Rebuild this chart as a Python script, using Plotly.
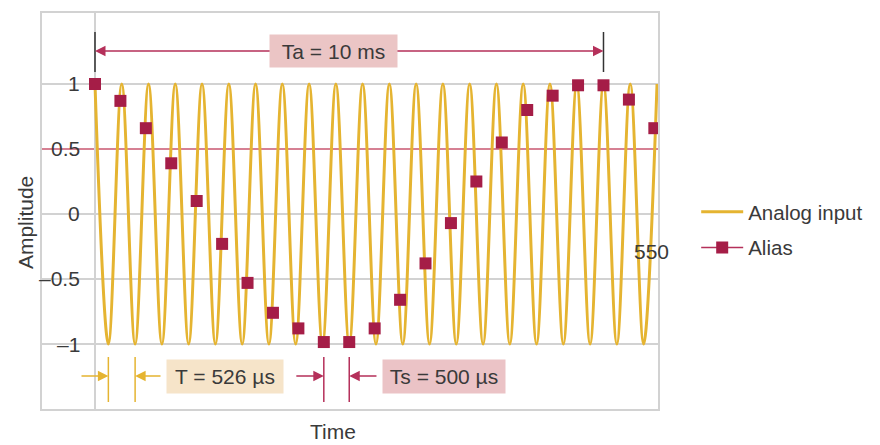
import plotly.graph_objects as go

# ---------------- data ----------------
# Analog input: times (ms) of its crests and troughs and their amplitudes
analog_t = [0.000, 0.263, 0.526, 0.789, 1.053, 1.316, 1.579, 1.842, 2.105, 2.368,
            2.632, 2.895, 3.158, 3.421, 3.684, 3.947, 4.211, 4.474, 4.737, 5.000,
            5.263, 5.526, 5.789, 6.053, 6.316, 6.579, 6.842, 7.105, 7.368, 7.632,
            7.895, 8.158, 8.421, 8.684, 8.947, 9.211, 9.474, 9.737, 10.000, 10.263,
            10.526, 10.789, 11.053]
analog_v = [1, -1, 1, -1, 1, -1, 1, -1, 1, -1,
            1, -1, 1, -1, 1, -1, 1, -1, 1, -1,
            1, -1, 1, -1, 1, -1, 1, -1, 1, -1,
            1, -1, 1, -1, 1, -1, 1, -1, 1, -1,
            1, -1, 1]

# Alias: sample times (ms) and sampled values
alias_t = [0.0, 0.5, 1.0, 1.5, 2.0, 2.5, 3.0, 3.5, 4.0, 4.5, 5.0, 5.5,
           6.0, 6.5, 7.0, 7.5, 8.0, 8.5, 9.0, 9.5, 10.0, 10.5, 11.0]
alias_v = [1.0, 0.87, 0.66, 0.39, 0.10, -0.23, -0.53, -0.76, -0.88, -0.985, -0.985, -0.88,
           -0.66, -0.38, -0.07, 0.25, 0.55, 0.80, 0.91, 0.99, 0.99, 0.88, 0.66]

ytick_vals = [1, 0.5, 0, -0.5, -1]
ytick_text = ["1", "0.5", "0", "\u20130.5", "\u20131"]

ta_marks = [0.0, 10.0]        # Ta = 10 ms
t_marks = [0.263, 0.789]      # T = 526 us
ts_marks = [4.5, 5.0]         # Ts = 500 us
ta_label = "Ta = 10 ms"
t_label = "T = 526 \u00b5s"
ts_label = "Ts = 500 \u00b5s"
stray_label = "550"

# ---------------- style ----------------
GOLD = "#E5B431"
CRIMSON = "#A51D47"
ARROW_RED = "#B5305A"
GRID = "#D2D2D2"
TXT = "#3A3A3A"
FONT = "Liberation Sans, Arial, sans-serif"
FS = 21

XR = [-1.042, 11.072]
YR = [-1.5, 1.546]

fig = go.Figure()

fig.add_trace(go.Scatter(
    x=analog_t, y=analog_v, mode="lines", name="Analog input",
    line=dict(color=GOLD, width=3, shape="spline", smoothing=1),
    legendgroup="a", hoverinfo="skip"))

fig.add_trace(go.Scatter(
    x=alias_t, y=alias_v, mode="markers", name="Alias", showlegend=False,
    marker=dict(symbol="square", size=12, color=CRIMSON),
    legendgroup="b"))

# legend entry for Alias (line + marker)
fig.add_trace(go.Scatter(
    x=[None], y=[None], mode="lines+markers", name="Alias",
    line=dict(color=ARROW_RED, width=1.5),
    marker=dict(symbol="square", size=12, color=CRIMSON),
    legendgroup="b"))

shapes = []
# 0.5 reference line
shapes.append(dict(type="line", xref="paper", x0=0, x1=1, yref="y", y0=0.5, y1=0.5,
                   line=dict(color="#C8566F", width=1.5), layer="below"))
# Ta end marks
for xm in ta_marks:
    shapes.append(dict(type="line", xref="x", yref="y", x0=xm, x1=xm, y0=1.092, y1=1.40,
                       line=dict(color="#333333", width=1.5)))
# T marks
for xm in t_marks:
    shapes.append(dict(type="line", xref="x", yref="y", x0=xm, x1=xm, y0=-1.10, y1=-1.446,
                       line=dict(color=GOLD, width=1.5)))
# Ts marks
for xm in ts_marks:
    shapes.append(dict(type="line", xref="x", yref="y", x0=xm, x1=xm, y0=-1.10, y1=-1.446,
                       line=dict(color=ARROW_RED, width=1.5)))

ann = []

def arrow(head_x, tail_x, y, color):
    ann.append(dict(x=head_x, y=y, ax=tail_x, ay=y, xref="x", yref="y", axref="x", ayref="y",
                    text="", showarrow=True, arrowhead=2, arrowsize=1.4, arrowwidth=1.5,
                    arrowcolor=color, standoff=0, startstandoff=0))

# Ta arrows
arrow(ta_marks[0], 4.69, 1.254, ARROW_RED)
arrow(ta_marks[1], 4.69, 1.254, ARROW_RED)
# T arrows
arrow(t_marks[0], -0.295, -1.246, GOLD)
arrow(t_marks[1], 1.318, -1.246, GOLD)
# Ts arrows
arrow(ts_marks[0], 3.93, -1.246, ARROW_RED)
arrow(ts_marks[1], 5.565, -1.246, ARROW_RED)

# labels in boxes
ann.append(dict(x=4.69, y=1.254, xref="x", yref="y", text=ta_label, showarrow=False,
                bgcolor="#EBC5C5", width=123, height=28, borderpad=2,
                font=dict(family=FONT, size=FS, color=TXT)))
ann.append(dict(x=2.557, y=-1.25, xref="x", yref="y", text=t_label, showarrow=False,
                bgcolor="#F6E4C9", width=112, height=29, borderpad=2,
                font=dict(family=FONT, size=FS, color=TXT)))
ann.append(dict(x=6.863, y=-1.25, xref="x", yref="y", text=ts_label, showarrow=False,
                bgcolor="#EBC3C6", width=118, height=29, borderpad=2,
                font=dict(family=FONT, size=FS, color=TXT)))

# y tick labels
for v, t in zip(ytick_vals, ytick_text):
    ann.append(dict(x=-0.26, y=v, xref="x", yref="y", text=t, showarrow=False,
                    xanchor="right", yanchor="middle",
                    font=dict(family=FONT, size=FS, color=TXT)))

# stray label
ann.append(dict(x=10.95, y=-0.285, xref="x", yref="y", text=stray_label, showarrow=False,
                font=dict(family=FONT, size=FS, color=TXT)))

# axis titles
ann.append(dict(x=-0.0276, y=0.472, xref="paper", yref="paper", text="Amplitude",
                textangle=-90, showarrow=False, xanchor="center", yanchor="middle",
                font=dict(family=FONT, size=FS, color=TXT)))
ann.append(dict(x=0.4724, y=-0.058, xref="paper", yref="paper", text="Time",
                showarrow=False, xanchor="center", yanchor="middle",
                font=dict(family=FONT, size=FS, color=TXT)))

fig.update_layout(
    width=880, height=445,
    margin=dict(l=42, r=222, t=13, b=36),
    paper_bgcolor="white", plot_bgcolor="white",
    font=dict(family=FONT, size=FS, color=TXT),
    showlegend=True,
    legend=dict(x=1.062, y=0.548, xanchor="left", yanchor="top",
                traceorder="grouped", tracegroupgap=6, itemwidth=42,
                font=dict(family=FONT, size=20.5, color=TXT),
                bgcolor="rgba(0,0,0,0)"),
    shapes=shapes, annotations=ann,
    xaxis=dict(range=XR, showgrid=False, showticklabels=False, ticks="",
               zeroline=True, zerolinecolor=GRID, zerolinewidth=1.5,
               showline=True, mirror=True, linecolor=GRID, linewidth=2),
    yaxis=dict(range=YR, tickvals=[-1, -0.5, 0, 1], showticklabels=False, ticks="",
               showgrid=True, gridcolor=GRID, gridwidth=1.5, zeroline=False,
               showline=True, mirror=True, linecolor=GRID, linewidth=2),
)

fig.write_html("out.html", config={"displayModeBar": False},
               post_script="document.body.style.margin='0';")
